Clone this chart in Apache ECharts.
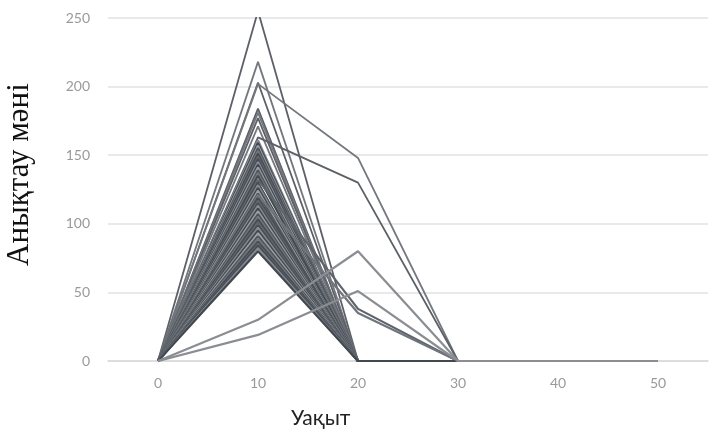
<!DOCTYPE html>
<html>
<head>
<meta charset="utf-8">
<script src="https://cdn.jsdelivr.net/npm/echarts@6/dist/echarts.min.js"></script>
<style>
html,body{margin:0;padding:0;background:#fff;}
#chart{width:712px;height:439px;}
</style>
</head>
<body>
<div id="chart"></div>
<script>
// X categories (time)
const timeLabels = ['0', '10', '20', '30', '40', '50'];
// Y ticks
const yTicks = [0, 50, 100, 150, 200, 250];
// Values of each series at each time point (one entry per series)
const at10 = [255,218,203,202,184,181,177,171,163,161,159,157,155,153,151,149,147,145,143,141,139,137,135,132,130,128,126,124,122,121,119,117,115,113,111,109,107,105,103,101,99,97,95,93,91,89,87,85,84,82,80,30,19];
const at20 = [0,0,0,148,0,0,0,0,130,0,0,0,0,0,0,0,0,0,0,0,0,0,0,38,0,0,0,0,0,35,0,0,0,0,0,0,0,0,0,0,0,0,0,0,0,0,0,0,0,0,0,80,51];
const at0  = at10.map(() => 0);
const at30 = at10.map(() => 0);
const at40 = at10.map(() => 0);
const at50 = at10.map(() => 0);

const palette = ['#474d55','#868a90','#424850','#9a9ea3','#4f555d','#70757c','#454b53','#5f646b'];

const series = at10.map((_, i) => ({
  type: 'line',
  data: [at0[i], at10[i], at20[i], at30[i], at40[i], at50[i]],
  symbol: 'none',
  silent: true,
  lineStyle: {
    width: i < 9 ? 1.8 : 2.2,
    color: i < 9 ? (i % 2 ? '#74787e' : '#5c6067') : (i >= at10.length - 2 ? '#8a8d92' : palette[i % palette.length])
  },
  z: 2
}));

const chart = echarts.init(document.getElementById('chart'));
chart.setOption({
  animation: false,
  backgroundColor: '#ffffff',
  grid: { left: 108, right: 4, top: 18, bottom: 78 },
  xAxis: {
    type: 'category',
    data: timeLabels,
    boundaryGap: true,
    axisLine: { show: true, lineStyle: { color: '#d9d9d9', width: 1.5 } },
    axisTick: { show: false },
    axisLabel: { color: '#9a9a9a', fontSize: 14, margin: 15, fontFamily: 'Lato' }
  },
  yAxis: {
    type: 'value',
    min: yTicks[0],
    max: yTicks[yTicks.length - 1],
    interval: 50,
    axisLine: { show: false },
    axisTick: { show: false },
    axisLabel: { color: '#9a9a9a', fontSize: 14, margin: 18, fontFamily: 'Lato' },
    splitLine: { lineStyle: { color: '#e2e2e2', width: 1.5 } }
  },
  graphic: [
    {
      type: 'text',
      left: 291, top: 408,
      style: { text: 'Уақыт', fontSize: 21, fontFamily: 'Lato', fill: '#222' }
    },
    {
      type: 'text',
      x: 4, y: 266,
      rotation: Math.PI / 2,
      style: { text: 'Анықтау мәні', fontSize: 31, fontFamily: 'Liberation Serif', fill: '#111' }
    }
  ],
  series: series
});
</script>
</body>
</html>
